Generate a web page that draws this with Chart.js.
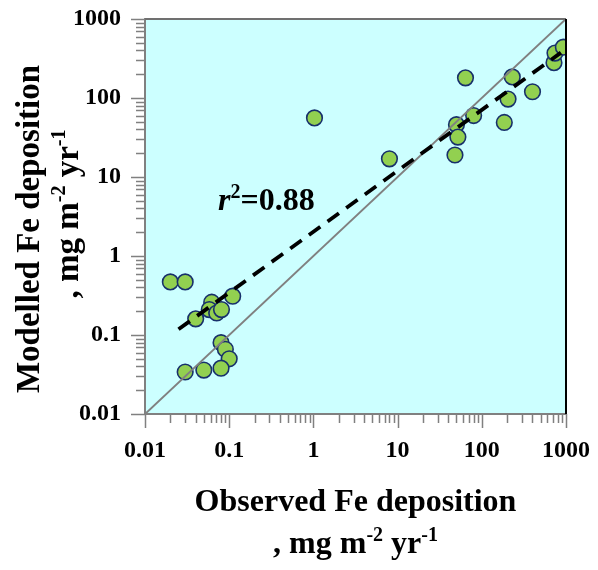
<!DOCTYPE html>
<html><head><meta charset="utf-8">
<script src="https://cdn.jsdelivr.net/npm/chart.js@4/dist/chart.umd.min.js"></script>
<style>html,body{margin:0;padding:0;background:#fff}#wrap{width:598px;height:570px}</style>
</head><body><div id="wrap"><canvas id="c" width="598" height="570"></canvas></div>
<script>
// Observed vs modelled Fe deposition (mg m-2 yr-1)
const observedFe = [0.02, 0.03, 0.062, 0.11, 0.058, 0.071, 0.081, 0.04, 0.08, 0.09, 0.1, 0.03, 0.05, 0.08,
                    1.03, 8, 48, 50, 52, 80, 64, 185, 205, 230, 400, 720, 740, 930];
const modelledFe = [0.47, 0.47, 0.26, 0.31, 0.21, 0.19, 0.21, 0.16, 0.08, 0.066, 0.05, 0.034, 0.036, 0.038,
                    56, 17, 19, 46, 32, 60, 180, 49, 97, 185, 120, 280, 370, 440];
const fitX = [0.025, 870];
const fitY = [0.118, 375];
const oneToOneX = [0.01, 1000];
const oneToOneY = [0.01, 1000];
const xTickLabels = ['0.01', '0.1', '1', '10', '100', '1000'];
const yTickLabels = ['0.01', '0.1', '1', '10', '100', '1000'];
const r2Value = '0.88';

const SERIF = "'Liberation Serif','Times New Roman',serif";

function tickValues(labels) {
  const majors = labels.map(Number);
  const all = [];
  majors.forEach((m, i) => {
    all.push(m);
    if (i < majors.length - 1) for (let k = 2; k <= 9; k++) all.push(m * k);
  });
  return { majors, all };
}
const xT = tickValues(xTickLabels);
const yT = tickValues(yTickLabels);

function labelFor(value, T, labels) {
  const i = T.majors.findIndex(m => Math.abs(Math.log10(m) - Math.log10(value)) < 1e-6);
  return i >= 0 ? labels[i] : '';
}
function isMajor(value, T) {
  return T.majors.some(m => Math.abs(Math.log10(m) - Math.log10(value)) < 1e-6);
}

function segFont(s, size) {
  const sz = s.sup ? Math.round(size * 0.62) : size;
  return (s.italic ? 'italic ' : '') + 'bold ' + sz + 'px ' + SERIF;
}
function richWidth(ctx, segs, size) {
  let w = 0;
  segs.forEach(s => { ctx.font = segFont(s, size); w += ctx.measureText(s.t).width; });
  return w;
}
function drawRich(ctx, segs, x0, baseline, size, align) {
  let x = align === 'left' ? x0 : x0 - richWidth(ctx, segs, size) / 2;
  ctx.textAlign = 'left';
  ctx.textBaseline = 'alphabetic';
  segs.forEach(s => {
    ctx.font = segFont(s, size);
    ctx.fillText(s.t, x, s.sup ? baseline - size * 0.38 : baseline);
    x += ctx.measureText(s.t).width;
  });
}

const unitSegs = [{ t: ', mg m' }, { t: '-2', sup: true }, { t: ' yr' }, { t: '-1', sup: true }];

const decor = {
  id: 'decor',
  beforeDraw(chart) {
    const { ctx, chartArea: a } = chart;
    ctx.save();
    ctx.fillStyle = '#CCFFFF';
    ctx.fillRect(a.left, a.top, a.right - a.left, a.bottom - a.top);
    ctx.restore();
  },
  afterDraw(chart) {
    const { ctx, chartArea: a } = chart;
    const xs = chart.scales.x, ys = chart.scales.y;
    ctx.save();
    // tick marks
    ctx.strokeStyle = '#808080';
    ctx.lineWidth = 1.5;
    ctx.beginPath();
    xT.all.forEach(v => {
      const px = Math.round(xs.getPixelForValue(v)) + 0.5;
      const len = isMajor(v, xT) ? 14 : 9;
      ctx.moveTo(px, a.bottom); ctx.lineTo(px, a.bottom + len);
    });
    yT.all.forEach(v => {
      const py = Math.round(ys.getPixelForValue(v)) + 0.5;
      const len = isMajor(v, yT) ? 14 : 9;
      ctx.moveTo(a.left, py); ctx.lineTo(a.left - len, py);
    });
    ctx.stroke();
    // top & right frame
    ctx.lineWidth = 2;
    ctx.strokeStyle = '#707070';
    ctx.beginPath(); ctx.moveTo(a.left, a.top); ctx.lineTo(a.right, a.top); ctx.stroke();
    ctx.strokeStyle = '#000000';
    ctx.beginPath(); ctx.moveTo(a.right, a.top); ctx.lineTo(a.right, a.bottom); ctx.stroke();

    ctx.fillStyle = '#000000';
    // x title
    drawRich(ctx, [{ t: 'Observed Fe deposition' }], (a.left + a.right) / 2, 511, 32, 'center');
    drawRich(ctx, unitSegs, (a.left + a.right) / 2, 553, 32, 'center');
    // y title
    ctx.save();
    ctx.translate(39, 229);
    ctx.rotate(-Math.PI / 2);
    drawRich(ctx, [{ t: 'Modelled Fe deposition' }], 0, 0, 33, 'center');
    ctx.restore();
    ctx.save();
    ctx.translate(78, 214);
    ctx.rotate(-Math.PI / 2);
    drawRich(ctx, unitSegs, 0, 0, 33, 'center');
    ctx.restore();
    // r^2 annotation
    drawRich(ctx, [{ t: 'r', italic: true }, { t: '2', sup: true }, { t: '=' + r2Value }], 218, 210, 32, 'left');
    ctx.restore();
  }
};

const points = observedFe.map((x, i) => ({ x, y: modelledFe[i] }));
const fitLine = fitX.map((x, i) => ({ x, y: fitY[i] }));
const diagLine = oneToOneX.map((x, i) => ({ x, y: oneToOneY[i] }));

function zeroPad(s) { s.paddingTop = 0; s.paddingBottom = 0; s.paddingLeft = 0; s.paddingRight = 0; }

new Chart(document.getElementById('c'), {
  type: 'scatter',
  data: {
    datasets: [
      { label: 'sites', data: points, order: 2, pointRadius: 7.8, pointHoverRadius: 7.8,
        backgroundColor: '#92D050', borderColor: '#17306B', borderWidth: 1.6 },
      { label: '1:1', data: diagLine, order: 1, showLine: true, pointRadius: 0,
        borderColor: '#808080', borderWidth: 2 },
      { label: 'fit', data: fitLine, order: 0, showLine: true, pointRadius: 0,
        borderColor: '#000000', borderWidth: 3.8, borderDash: [14, 9] }
    ]
  },
  options: {
    responsive: false,
    animation: false,
    devicePixelRatio: 1,
    layout: { padding: { top: 19, right: 32, left: 0, bottom: 0 } },
    plugins: { legend: { display: false }, tooltip: { enabled: false } },
    scales: {
      x: {
        type: 'logarithmic', min: 0.01, max: 1000,
        afterBuildTicks: s => { s.ticks = xT.all.map(v => ({ value: v })); },
        afterFit: s => { s.height = 156; zeroPad(s); },
        grid: { display: false, drawTicks: false },
        border: { display: true, color: '#808080', width: 2 },
        ticks: { autoSkip: false, maxRotation: 0, padding: 22, color: '#000',
          font: { family: SERIF, weight: 'bold', size: 24 },
          callback: v => labelFor(v, xT, xTickLabels) }
      },
      y: {
        type: 'logarithmic', min: 0.01, max: 1000,
        afterBuildTicks: s => { s.ticks = yT.all.map(v => ({ value: v })); },
        afterFit: s => { s.width = 145; zeroPad(s); },
        grid: { display: false, drawTicks: false },
        border: { display: true, color: '#808080', width: 2 },
        ticks: { autoSkip: false, padding: 24, color: '#000',
          font: { family: SERIF, weight: 'bold', size: 24 },
          callback: v => labelFor(v, yT, yTickLabels) }
      }
    }
  },
  plugins: [decor]
});
</script>
</body></html>
